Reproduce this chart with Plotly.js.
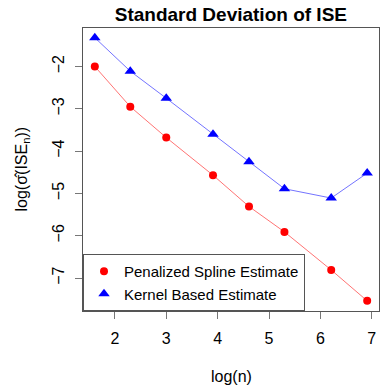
<!DOCTYPE html>
<html>
<head>
<meta charset="utf-8">
<script src="https://cdn.plot.ly/plotly-3.0.1.min.js"></script>
<style>
  html, body { margin: 0; padding: 0; background: #fff; }
  #chart { width: 388px; height: 388px; }
</style>
</head>
<body>
<div id="chart"></div>
<script>
// log(n) for n = 5, 10, 20, 50, 100, 200, 500, 1000
var logN = [1.61, 2.30, 3.00, 3.91, 4.61, 5.30, 6.21, 6.91];
var splineSd = [-2.00, -2.95, -3.68, -4.57, -5.31, -5.91, -6.81, -7.54];
var kernelSd = [-1.32, -2.11, -2.75, -3.60, -4.25, -4.89, -5.11, -4.52];
var xTicks = [2, 3, 4, 5, 6, 7];
var yTicks = [-2, -3, -4, -5, -6, -7];

var fontFam = "Liberation Sans, Arial, Helvetica, sans-serif";

// connecting lines, kept out of the legend
var splineLine = {
    x: logN, y: splineSd, type: "scatter", mode: "lines",
    line: { color: "rgba(255,0,0,0.55)", width: 1 },
    showlegend: false, hoverinfo: "skip"
};
var kernelLine = {
    x: logN, y: kernelSd, type: "scatter", mode: "lines",
    line: { color: "rgba(0,0,255,0.55)", width: 1 },
    showlegend: false, hoverinfo: "skip"
};
var spline = {
    x: logN,
    y: splineSd,
    name: "Penalized Spline Estimate",
    type: "scatter",
    mode: "markers",
    marker: { color: "rgb(255,0,0)", symbol: "circle", size: 8 }
};
var kernel = {
    x: logN,
    y: kernelSd,
    name: "Kernel Based Estimate",
    type: "scatter",
    mode: "markers",
    marker: { color: "rgb(0,0,255)", symbol: "triangle-up", size: 10 }
};

var layout = {
    width: 388,
    height: 388,
    margin: { l: 83, r: 9, t: 28, b: 77 },
    paper_bgcolor: "#fff",
    plot_bgcolor: "#fff",
    font: { family: fontFam, size: 16, color: "#000" },
    showlegend: true,
    title: {
        text: "Standard Deviation of ISE",
        font: { family: fontFam, size: 19, weight: "bold", color: "#000" },
        x: 0.595, xanchor: "center",
        y: 0.962, yanchor: "middle"
    },
    xaxis: {
        range: [1.38, 7.14],
        tickvals: xTicks,
        ticks: "outside", ticklen: 7, tickcolor: "#777",
        showline: true, mirror: true, linecolor: "#555", linewidth: 1,
        showgrid: false, zeroline: false,
        ticklabelstandoff: 6,
        tickfont: { family: fontFam, size: 16 }
    },
    yaxis: {
        range: [-7.78, -1.09],
        tickvals: yTicks,
        ticktext: yTicks.map(function (v) { return "\u2212" + Math.abs(v); }),
        tickangle: -90,
        ticks: "outside", ticklen: 7, tickcolor: "#777",
        showline: true, mirror: true, linecolor: "#555", linewidth: 1,
        showgrid: false, zeroline: false,
        ticklabelstandoff: 5,
        tickfont: { family: fontFam, size: 16 }
    },
    legend: {
        x: 0, y: 0, xanchor: "left", yanchor: "bottom",
        bgcolor: "#fff", bordercolor: "#555", borderwidth: 1,
        font: { family: fontFam, size: 15, color: "#000" },
        tracegroupgap: 0,
        itemwidth: 30
    },
    annotations: [
        {
            text: "log(n)", xref: "paper", yref: "paper",
            x: 0.5, y: 0, xanchor: "center", yanchor: "middle",
            yshift: -65, showarrow: false,
            font: { family: fontFam, size: 16 }
        },
        {
            text: "log(\u03C3\u0302(ISE<sub>n</sub>))", xref: "paper", yref: "paper",
            x: 0, y: 0.5, xanchor: "center", yanchor: "middle",
            xshift: -61, textangle: -90, showarrow: false,
            font: { family: fontFam, size: 16 }
        }
    ]
};

Plotly.newPlot("chart", [splineLine, kernelLine, spline, kernel], layout,
    { displayModeBar: false, staticPlot: true });
</script>
</body>
</html>
